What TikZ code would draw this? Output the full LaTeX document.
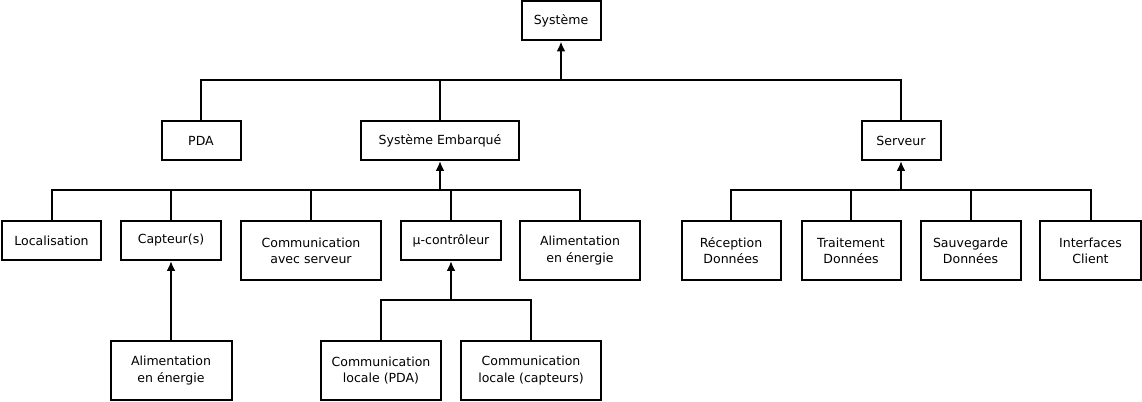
\documentclass[tikz,border=0pt]{standalone}
\usepackage{fontspec}
\setmainfont{DejaVu Sans}
\usetikzlibrary{arrows.meta}
\begin{document}
\begin{tikzpicture}[x=0.75pt,y=-0.75pt,
  box/.style={draw,line width=1.5pt,inner sep=0pt,align=center,
    font=\fontsize{9.4}{12.2}\selectfont,minimum height=#1},
  box/.default=29.25pt,
  link/.style={line width=1.5pt},
  arr/.style={line width=1.5pt,-{Latex[length=7.5pt,width=6.75pt]}}]
\useasboundingbox (0,0) rectangle (1142,402);
% level 0
\node[box, minimum width=59.25pt] (sys) at (561,21) {Système};
% level 1
\node[box, minimum width=59.25pt] (pda) at (201,140.5) {PDA};
\node[box, minimum width=118.5pt] (se) at (440,140.5) {Système Embarqué};
\node[box, minimum width=59.25pt] (srv) at (901,140.5) {Serveur};
% level 2 (embarqué)
\node[box, minimum width=74.25pt] (loc) at (51.5,240.5) {Localisation};
\node[box, minimum width=75pt] (cap) at (171,240.5) {Capteur(s)};
\node[box=44.25pt, minimum width=105pt] (comm) at (311,250.5) {Communication\\avec serveur};
\node[box, minimum width=75pt] (mu) at (451,240.5) {µ-contrôleur};
\node[box=44.25pt, minimum width=90pt] (alimA) at (580,250.5) {Alimentation\\en énergie};
% level 2 (serveur)
\node[box=44.25pt, minimum width=74.25pt] (rec) at (731,250.5) {Réception\\Données};
\node[box=44.25pt, minimum width=74.25pt] (trt) at (851,250.5) {Traitement\\Données};
\node[box=44.25pt, minimum width=75pt] (sav) at (970.5,250.5) {Sauvegarde\\Données};
\node[box=44.25pt, minimum width=75.75pt] (itf) at (1090.5,250.5) {Interfaces\\Client};
% level 3
\node[box=44.25pt, minimum width=90.75pt] (alimB) at (171,370.5) {Alimentation\\en énergie};
\node[box=44.25pt, minimum width=90pt] (clp) at (381,370.5) {Communication\\locale (PDA)};
\node[box=44.25pt, minimum width=105pt] (clc) at (531,370.5) {Communication\\locale (capteurs)};
% bus points
\coordinate (b1) at (561,80);
\coordinate (b2) at (440,190);
\coordinate (b3) at (901,190);
\coordinate (b4) at (451,300);
% connectors level 1
\draw[link] (pda) |- (b1);
\draw[link] (srv) |- (b1);
\draw[link] (se.north) -- (se.north |- b1);
\draw[arr] (b1) -- (sys);
% connectors level 2 embarqué
\draw[link] (loc) |- (b2);
\draw[link] (cap) |- (b2);
\draw[link] (comm) |- (b2);
\draw[link] (mu) |- (b2);
\draw[link] (alimA) |- (b2);
\draw[arr] (b2) -- (se);
% connectors serveur
\draw[link] (rec) |- (b3);
\draw[link] (trt) |- (b3);
\draw[link] (sav) |- (b3);
\draw[link] (itf) |- (b3);
\draw[arr] (b3) -- (srv);
% level 3
\draw[arr] (alimB) -- (cap);
\draw[link] (clp) |- (b4);
\draw[link] (clc) |- (b4);
\draw[arr] (b4) -- (mu);
\end{tikzpicture}
\end{document}
